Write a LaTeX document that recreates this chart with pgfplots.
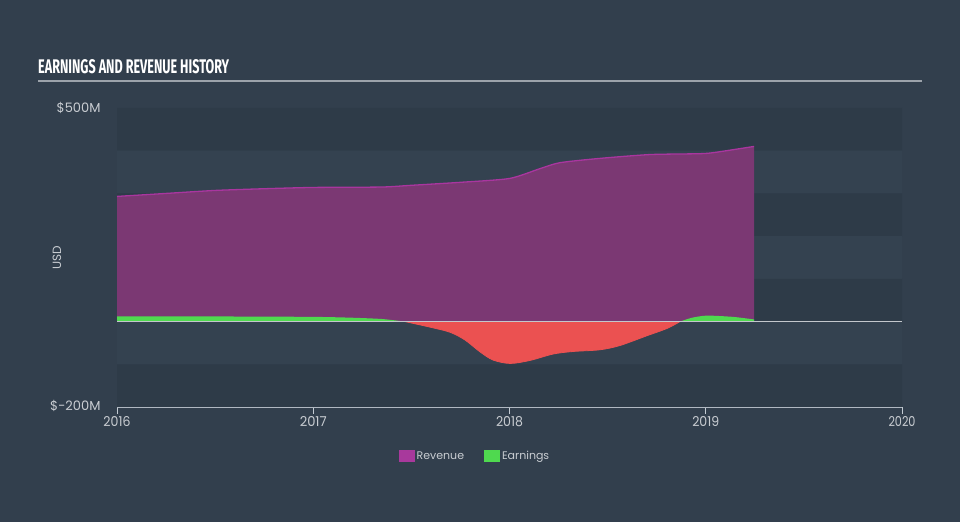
\documentclass[border=0pt]{standalone}
\usepackage{pgfplots}
\pgfplotsset{compat=1.18}
\usepackage{fontspec}
\setmainfont{Poppins}
\newfontfamily\titlefont{Fira Sans}
\definecolor{bgcol}{HTML}{323F4D}
\definecolor{banddark}{HTML}{2E3B48}
\definecolor{bandlight}{HTML}{344250}
\definecolor{revfill}{HTML}{7B3873}
\definecolor{revline}{HTML}{A9369F}
\definecolor{revleg}{HTML}{A8399C}
\definecolor{earngreen}{HTML}{4FD94F}
\definecolor{earnred}{HTML}{EB5151}
\definecolor{zerocol}{HTML}{C3C7CC}
\definecolor{lbl}{HTML}{C9CDD2}
\definecolor{axcol}{HTML}{C3CBD3}
\definecolor{titleline}{HTML}{9CA3AB}
\newcommand{\yl}[1]{\resizebox{27pt}{10pt}{#1}}
\begin{document}
\begin{tikzpicture}[x=1pt,y=1pt]
\fill[bgcol] (0,0) rectangle (960,522);
\path[use as bounding box] (0,0) rectangle (960,522);
\node[inner sep=0pt, anchor=base west, text=white] at (38,448) {\resizebox{191pt}{14pt}{\titlefont\bfseries EARNINGS AND REVENUE HISTORY}};
\draw[titleline, line width=2pt] (38,441) -- (922,441);
\begin{axis}[
  at={(117pt,115pt)}, anchor=south west,
  scale only axis, width=785pt, height=299pt,
  xmin=2016, xmax=2020, ymin=-200, ymax=500,
  axis x line*=bottom, axis y line*=left,
  x axis line style={axcol, line width=1pt},
  y axis line style={draw=none},
  xtick={2016,2017,2018,2019,2020},
  xticklabels={\yl{2016},\yl{2017},\yl{2018},\yl{2019},\yl{2020}},
  xtick style={axcol, line width=1pt},
  tick align=outside, major tick length=7pt,
  ytick={-200,500}, yticklabels={\raisebox{4pt}{\$-200M},\$500M},
  ytick style={draw=none},
  yticklabel style={text=lbl, font=\fontsize{13}{13}\selectfont, xshift=-6pt},
  xticklabel style={text=lbl, anchor=north, inner sep=0pt, yshift=-2pt},
  ylabel={USD},
  every axis y label/.style={at={(axis description cs:-0.0764,0.5)}, rotate=90, anchor=center, text=lbl, font=\fontsize{12}{12}\selectfont},
  legend style={at={(0.456,-0.164)}, anchor=center, draw=none, fill=none, legend columns=2, text=lbl, font=\fontsize{11}{11}\selectfont, /tikz/every even column/.append style={column sep=18pt}},
  clip=false,
]
% bands
\addplot[fill=banddark, draw=none, forget plot] coordinates {(2016,400) (2016,500) (2020,500) (2020,400) (2016,400)};
\addplot[fill=bandlight, draw=none, forget plot] coordinates {(2016,300) (2016,400) (2020,400) (2020,300) (2016,300)};
\addplot[fill=banddark, draw=none, forget plot] coordinates {(2016,200) (2016,300) (2020,300) (2020,200) (2016,200)};
\addplot[fill=bandlight, draw=none, forget plot] coordinates {(2016,100) (2016,200) (2020,200) (2020,100) (2016,100)};
\addplot[fill=banddark, draw=none, forget plot] coordinates {(2016,0) (2016,100) (2020,100) (2020,0) (2016,0)};
\addplot[fill=bandlight, draw=none, forget plot] coordinates {(2016,-100) (2016,0) (2020,0) (2020,-100) (2016,-100)};
\addplot[fill=banddark, draw=none, forget plot] coordinates {(2016,-200) (2016,-100) (2020,-100) (2020,-200) (2016,-200)};
% revenue
\addplot[fill=revfill, draw=none, smooth, tension=0.4,
  legend image code/.code={\fill[revleg] (0pt,-6pt) rectangle (16pt,6pt);}]
  coordinates {(2016,293) (2016.25,300) (2016.5,307) (2016.75,311) (2017,314) (2017.35,315) (2017.5,319) (2017.75,326) (2018,335) (2018.155,358) (2018.257,372) (2018.46,382) (2018.716,391) (2018.97,393) (2019.047,396) (2019.246,410)} \closedcycle;
\addlegendentry{Revenue}
\addplot[draw=revline, line width=1.3pt, smooth, tension=0.4, forget plot]
  coordinates {(2016,293) (2016.25,300) (2016.5,307) (2016.75,311) (2017,314) (2017.35,315) (2017.5,319) (2017.75,326) (2018,335) (2018.155,358) (2018.257,372) (2018.46,382) (2018.716,391) (2018.97,393) (2019.047,396) (2019.246,410)};
% earnings
\addplot[fill=earngreen, draw=none, smooth, tension=0.4,
  legend image code/.code={\fill[earngreen] (0pt,-6pt) rectangle (16pt,6pt);}]
  coordinates {(2016,12) (2016.5,12) (2017,11) (2017.2,9) (2017.35,6) (2017.467,0)} \closedcycle;
\addlegendentry{Earnings}
\addplot[fill=earnred, draw=earnred, line width=0.8pt, smooth, tension=0.5, forget plot]
  coordinates {(2017.467,0) (2017.595,-13) (2017.697,-25) (2017.773,-43) (2017.85,-71) (2017.916,-90) (2018.003,-98) (2018.104,-91) (2018.222,-76) (2018.324,-70) (2018.461,-66) (2018.563,-56) (2018.701,-33) (2018.803,-16) (2018.869,0)} \closedcycle;
\addplot[fill=earngreen, draw=none, smooth, tension=0.4, forget plot]
  coordinates {(2018.869,0) (2018.93,9) (2019.006,14) (2019.139,11) (2019.246,5)} \closedcycle;
% zero line
\addplot[zerocol, line width=1.5pt, forget plot] coordinates {(2016,0) (2020,0)};
\end{axis}
\end{tikzpicture}
\end{document}
